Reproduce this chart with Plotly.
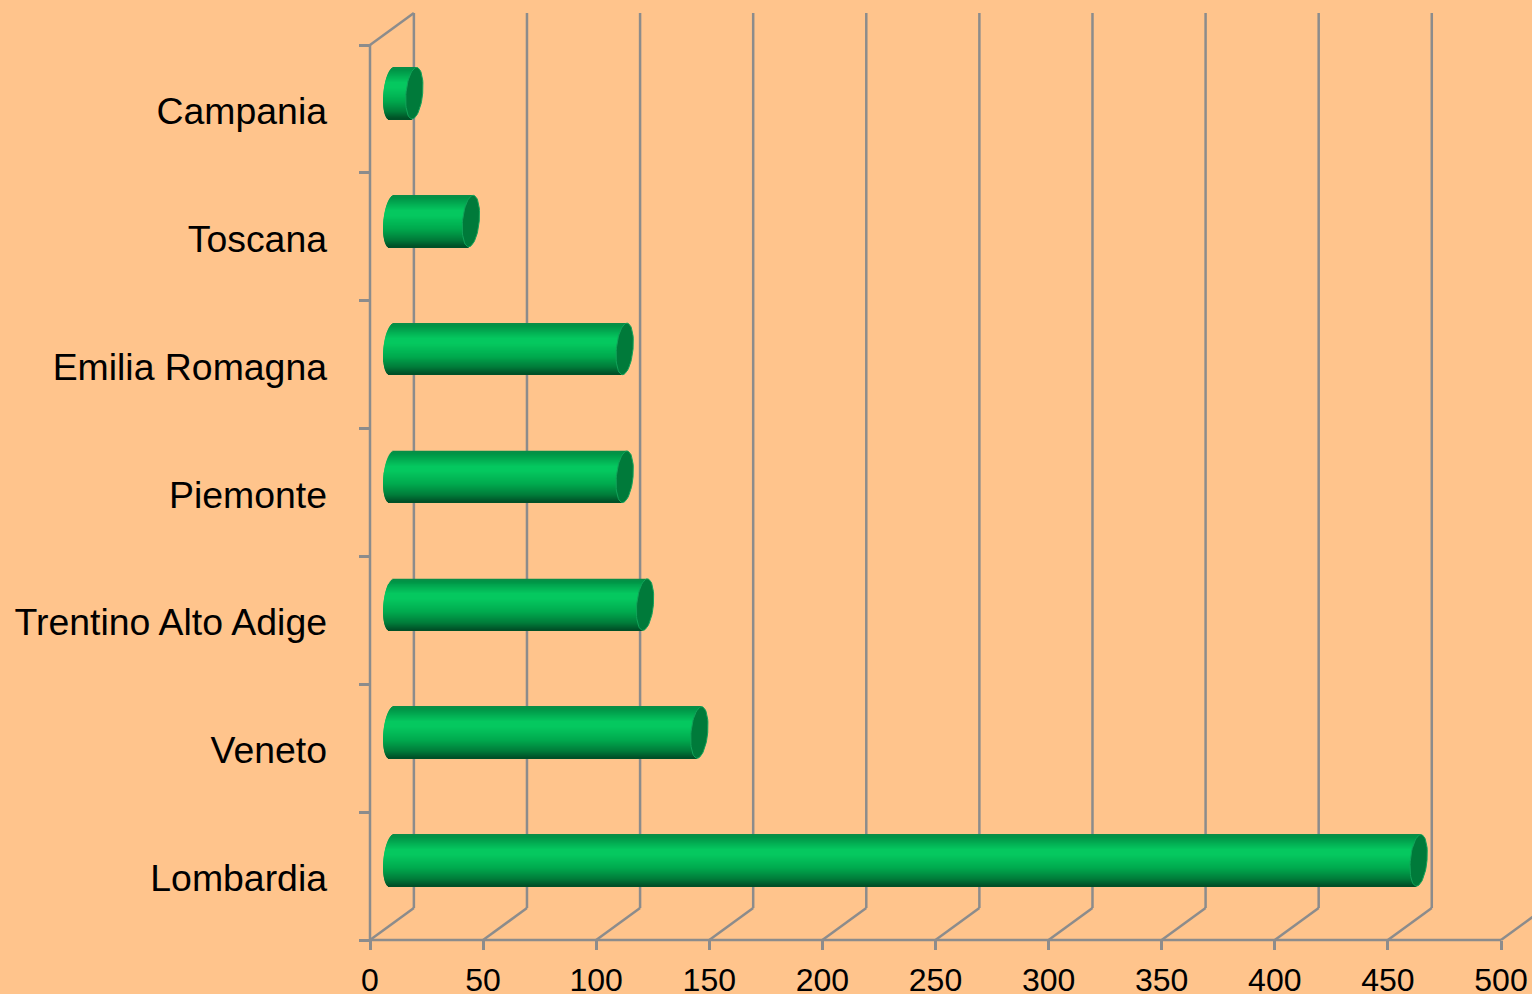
import numpy as np
import plotly.graph_objects as go

categories = ["Lombardia", "Veneto", "Trentino Alto Adige", "Piemonte", "Emilia Romagna", "Toscana", "Campania"]
values = [454, 136, 112, 103, 103, 35, 10]
x_ticks = [0, 50, 100, 150, 200, 250, 300, 350, 400, 450, 500]

BG = "#FFC48C"
AXIS = "#8C8C8C"
W, H = 1532, 994
ML, MB = 370, 54
PX_X = 2.262
PX_Y = 127.86
XMIN, XMAX = -ML / PX_X, (W - ML) / PX_X
YMIN, YMAX = -0.5 - MB / PX_Y, 6.852
DX, DY = 19.4, 0.25
BAR_W = 0.403
B0 = 9.6
CY = 0.123
A = 3.7
SHEAR = 1.0
N = 52

stops = [(0.0, (12, 140, 72)), (0.06, (0, 148, 70)), (0.30, (5, 200, 95)), (0.40, (5, 200, 95)),
         (0.65, (0, 170, 78)), (0.86, (0, 125, 58)), (1.0, (0, 78, 38))]


def band_color(u):
    xs = [s[0] for s in stops]
    rgb = [np.interp(u, xs, [s[1][k] for s in stops]) for k in range(3)]
    return "rgb(%d,%d,%d)" % tuple(int(round(c)) for c in rgb)


y_idx = np.arange(len(categories))
fig = go.Figure()

for i in range(N):
    u = (i + 0.5) / N
    t = 1 - 2 * u
    base = [B0 - A * np.sqrt(1 - t * t) + SHEAR * t] * len(values)
    length = [v + A * np.sqrt(1 - t * t) for v in values]
    fig.add_trace(go.Bar(
        y=y_idx, x=length, base=base, orientation="h",
        width=BAR_W / N * 1.4,
        offset=CY + t * BAR_W / 2 - BAR_W / N * 0.7,
        marker=dict(color=band_color(u), line=dict(width=0)),
        hoverinfo="skip", showlegend=False,
    ))

th = np.linspace(0, 2 * np.pi, 60)
for k, v in enumerate(values):
    fig.add_trace(go.Scatter(
        x=B0 + v + A * np.cos(th) + SHEAR * np.sin(th),
        y=k + CY + BAR_W / 2 * np.sin(th),
        mode="lines", fill="toself", fillcolor="#007A3A",
        line=dict(color="#12A35A", width=1),
        hoverinfo="skip", showlegend=False,
    ))

line = dict(color=AXIS, width=2.5)
shapes = [
    dict(type="line", xref="x", yref="y", x0=0, x1=0, y0=-0.5, y1=6.5, line=line, layer="below"),
    dict(type="line", xref="x", yref="y", x0=0, x1=DX, y0=6.5, y1=6.5 + DY, line=line, layer="below"),
    dict(type="line", xref="x", yref="y", x0=0, x1=x_ticks[-1], y0=-0.5, y1=-0.5, line=line, layer="below"),
]
for xt in x_ticks:
    shapes.append(dict(type="line", xref="x", yref="y", x0=xt, x1=xt + DX, y0=-0.5, y1=-0.5 + DY,
                       line=line, layer="below"))
    if xt + DX < XMAX:
        shapes.append(dict(type="line", xref="x", yref="y", x0=xt + DX, x1=xt + DX, y0=-0.5 + DY, y1=6.5 + DY,
                           line=line, layer="below"))

fig.update_layout(
    width=W, height=H, autosize=False,
    margin=dict(l=0, r=0, t=0, b=0, pad=0),
    paper_bgcolor=BG, plot_bgcolor=BG,
    barmode="overlay", showlegend=False, shapes=shapes,
    font=dict(family="Liberation Sans, Arial, sans-serif", color="#000000"),
    xaxis=dict(range=[XMIN, XMAX], domain=[0, 1], anchor="free", position=MB / H,
               tickvals=x_ticks, showgrid=False, zeroline=False, showline=False, automargin=False,
               ticks="outside", ticklen=9, tickwidth=2.5, tickcolor=AXIS,
               tickfont=dict(size=32), ticklabelstandoff=3),
    yaxis=dict(range=[YMIN, YMAX], domain=[0, 1], anchor="free", position=ML / W,
               tickvals=list(y_idx), ticktext=categories, showgrid=False, zeroline=False, automargin=False,
               showline=False, ticks="", tickfont=dict(size=37.4), ticklabelstandoff=43, ticklabelshift=2,
               minor=dict(tickvals=[k - 0.5 for k in range(len(categories) + 1)], ticks="outside",
                          ticklen=11, tickwidth=2.5, tickcolor=AXIS, showgrid=False)),
)
fig.write_html("out.html", config=dict(displayModeBar=False),
               post_script="document.body.style.margin='0';document.body.style.overflow='hidden';")
